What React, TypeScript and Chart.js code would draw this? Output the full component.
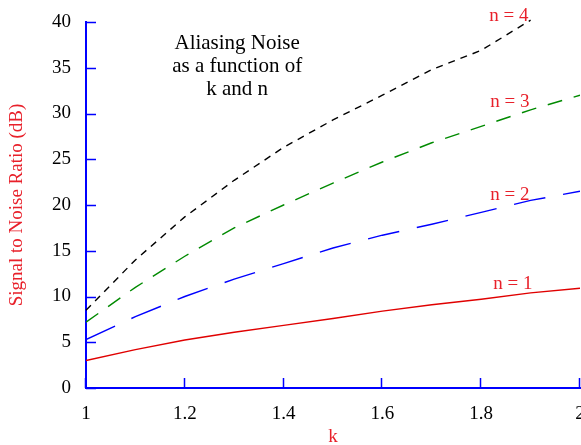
import React, { useEffect, useRef } from 'react';
import { Chart, registerables } from 'chart.js';

Chart.register(...registerables);

// ---- data ----
const kValues = [1, 1.1, 1.2, 1.3, 1.4, 1.5, 1.6, 1.7, 1.8, 1.9, 2.0];
const snrN1 = [3.0, 4.2, 5.25, 6.1, 6.85, 7.6, 8.4, 9.1, 9.7, 10.4, 10.9];
const snrN2 = [5.3, 7.8, 10.0, 11.9, 13.6, 15.3, 16.7, 17.9, 19.2, 20.5, 21.5];
const snrN3 = [7.2, 11.0, 14.4, 17.5, 20.0, 22.4, 24.7, 26.8, 28.6, 30.4, 32.0];
const snrN4 = [8.5, 14.0, 18.7, 22.7, 26.3, 29.3, 32.0, 34.8, 36.9, 40.2];

const xTicks = [1, 1.2, 1.4, 1.6, 1.8, 2];
const yTicks = [0, 5, 10, 15, 20, 25, 30, 35, 40];

const seriesNames = ['n = 1', 'n = 2', 'n = 3', 'n = 4'];
const seriesLabelK = [1.864, 1.858, 1.858, 1.856];
const seriesLabelSnr = [10.8, 20.5, 30.7, 40.1];

const titleLines = ['Aliasing Noise', 'as a function of', 'k and n'];
const titleK = 1.306;
const titleSnr = [37.1, 34.5, 32.0];

const xTitle = 'k';
const yTitle = 'Signal to Noise Ratio (dB)';

// ---- styles ----
const AXIS_BLUE = '#0000ff';
const TEXT_RED = '#e8202a';
const FONT = '"Liberation Serif", "Times New Roman", serif';

const decorPlugin = {
  id: 'decor',
  afterDatasetsDraw(chart: any) {
    const { ctx, chartArea, scales } = chart;
    const x = scales.x;
    const y = scales.y;
    ctx.save();
    ctx.strokeStyle = AXIS_BLUE;
    ctx.lineWidth = 1.5;
    ctx.beginPath();
    yTicks.forEach((v) => {
      const py = Math.round(y.getPixelForValue(v)) + 0.5;
      ctx.moveTo(chartArea.left, py);
      ctx.lineTo(chartArea.left + 10, py);
    });
    xTicks.forEach((v) => {
      const px = Math.round(x.getPixelForValue(v)) - 0.5;
      ctx.moveTo(px, chartArea.bottom);
      ctx.lineTo(px, chartArea.bottom - 10);
    });
    ctx.stroke();

    ctx.font = `19px ${FONT}`;
    ctx.fillStyle = TEXT_RED;
    ctx.textAlign = 'center';
    ctx.textBaseline = 'alphabetic';
    seriesNames.forEach((t, i) => {
      ctx.fillText(t, x.getPixelForValue(seriesLabelK[i]), y.getPixelForValue(seriesLabelSnr[i]));
    });

    ctx.font = `21px ${FONT}`;
    ctx.fillStyle = '#000000';
    titleLines.forEach((t, i) => {
      ctx.fillText(t, x.getPixelForValue(titleK), y.getPixelForValue(titleSnr[i]));
    });
    ctx.restore();
  },
};

export default function App() {
  const canvasRef = useRef<HTMLCanvasElement | null>(null);

  useEffect(() => {
    const canvas = canvasRef.current;
    if (!canvas) return;
    const mk = (vals: number[]) => vals.map((v, i) => ({ x: kValues[i], y: v }));
    const chart = new Chart(canvas, {
      type: 'line',
      data: {
        datasets: [
          { label: seriesNames[0], data: mk(snrN1), borderColor: '#e00000', borderWidth: 1.4, pointRadius: 0, tension: 0, fill: false },
          { label: seriesNames[1], data: mk(snrN2), borderColor: '#0000ff', borderWidth: 1.4, borderDash: [32, 18], pointRadius: 0, tension: 0, fill: false },
          { label: seriesNames[2], data: mk(snrN3), borderColor: '#008a00', borderWidth: 1.4, borderDash: [15, 12], pointRadius: 0, tension: 0, fill: false },
          { label: seriesNames[3], data: mk(snrN4), borderColor: '#000000', borderWidth: 1.4, borderDash: [7, 6], pointRadius: 0, tension: 0, fill: false, clip: 6 } as any,
        ],
      },
      options: {
        responsive: false,
        animation: false,
        layout: { padding: { left: 0, right: 1, top: 22, bottom: 0 } },
        plugins: { legend: { display: false }, tooltip: { enabled: false }, title: { display: false } },
        scales: {
          x: {
            type: 'linear',
            min: 1,
            max: 2,
            afterBuildTicks: (s: any) => { s.ticks = xTicks.map((v) => ({ value: v })); },
            afterFit: (s: any) => { s.height = 57; s.paddingRight = 0; s.paddingLeft = 0; },
            grid: { display: true, drawOnChartArea: false, drawTicks: false },
            border: { display: true, color: AXIS_BLUE, width: 2 },
            ticks: { color: '#000000', font: { family: FONT, size: 19 }, padding: 15, maxRotation: 0, autoSkip: false,
              callback: (v: any) => String(Number(Number(v).toFixed(1))) },
            title: { display: true, text: xTitle, color: TEXT_RED, font: { family: FONT, size: 19 }, padding: { top: 0, bottom: -3 } },
          },
          y: {
            type: 'linear',
            min: 0,
            max: 40,
            afterBuildTicks: (s: any) => { s.ticks = yTicks.map((v) => ({ value: v })); },
            afterFit: (s: any) => { s.width = 86; s.paddingTop = 0; s.paddingBottom = 0; },
            grid: { display: true, drawOnChartArea: false, drawTicks: false },
            border: { display: true, color: AXIS_BLUE, width: 2 },
            ticks: { color: '#000000', font: { family: FONT, size: 19 }, padding: 15, autoSkip: false,
              callback: (v: any) => String(v) },
            title: { display: true, text: yTitle, color: TEXT_RED, font: { family: FONT, size: 19 }, padding: { top: 6, bottom: 0 } },
          },
        },
      },
      plugins: [decorPlugin],
    });
    return () => chart.destroy();
  }, []);

  return (
    <div style={{ position: 'absolute', left: 0, top: 0, width: 581, height: 445, background: '#ffffff' }}>
      <canvas ref={canvasRef} width={581} height={445} style={{ display: 'block', width: 581, height: 445 }} />
    </div>
  );
}
